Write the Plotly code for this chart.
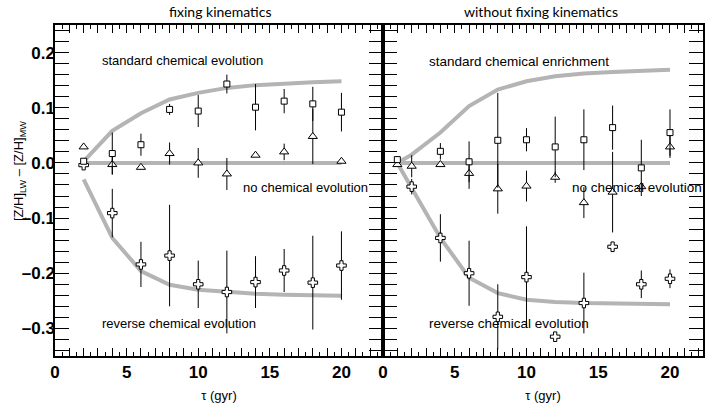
import plotly.graph_objects as go

# ---------------- data: left panel (fixing kinematics) ----------------
L_x = [2, 4, 6, 8, 10, 12, 14, 16, 18, 20]
L_sq = [0.003, 0.017, 0.033, 0.097, 0.094, 0.143, 0.101, 0.112, 0.107, 0.092]
L_sq_err = [0.0, 0.038, 0.020, 0.010, 0.029, 0.017, 0.042, 0.022, 0.031, 0.035]
L_tri = [0.029, -0.003, -0.008, 0.017, 0.000, -0.020, 0.014, 0.020, 0.048, 0.003]
L_tri_err = [0.0, 0.018, 0.0, 0.020, 0.027, 0.029, 0.0, 0.015, 0.050, 0.0]
L_crs = [-0.004, -0.091, -0.184, -0.168, -0.220, -0.234, -0.216, -0.195, -0.217, -0.186]
L_crs_err = [0.008, 0.044, 0.041, 0.092, 0.043, 0.075, 0.047, 0.039, 0.085, 0.062]
L_std_curve = [0.003, 0.058, 0.090, 0.115, 0.127, 0.136, 0.141, 0.144, 0.146, 0.148]
L_flat_curve = [0.0, 0.0, 0.0, 0.0, 0.0, 0.0, 0.0, 0.0, 0.0, 0.0]
L_rev_curve = [-0.030, -0.136, -0.196, -0.221, -0.230, -0.234, -0.237, -0.239, -0.240, -0.241]

# ---------------- data: right panel (without fixing kinematics) ----------------
R_cx = [1, 2, 4, 6, 8, 10, 12, 14, 16, 18, 20]
R_std_curve = [0.0, 0.015, 0.055, 0.103, 0.133, 0.148, 0.157, 0.162, 0.165, 0.167, 0.169]
R_flat_curve = [0.0, 0.0, 0.0, 0.0, 0.0, 0.0, 0.0, 0.0, 0.0, 0.0, 0.0]
R_rev_curve = [0.0, -0.045, -0.136, -0.208, -0.236, -0.248, -0.252, -0.254, -0.255, -0.256, -0.256]

R_sq_x = [1, 4, 6, 8, 10, 12, 14, 16, 18, 20]
R_sq = [0.006, 0.021, 0.002, 0.041, 0.042, 0.029, 0.042, 0.064, -0.009, 0.055]
R_sq_err = [0.0, 0.015, 0.037, 0.086, 0.021, 0.055, 0.055, 0.040, 0.051, 0.042]
R_tri_x = [1, 2, 4, 6, 8, 10, 12, 14, 16, 18, 20]
R_tri = [-0.003, -0.006, -0.003, -0.019, -0.047, -0.042, -0.026, -0.072, -0.053, -0.043, 0.029]
R_tri_err = [0.0, 0.020, 0.0, 0.028, 0.045, 0.028, 0.010, 0.028, 0.073, 0.0, 0.020]
R_crs_x = [2, 4, 6, 8, 10, 12, 14, 16, 18, 20]
R_crs = [-0.043, -0.136, -0.200, -0.279, -0.207, -0.315, -0.254, -0.152, -0.220, -0.210]
R_crs_err = [0.014, 0.043, 0.059, 0.059, 0.092, 0.0, 0.055, 0.0, 0.025, 0.017]

y_tickvals = [0.2, 0.1, 0.0, -0.1, -0.2, -0.3]
y_ticktext = ["0.2", "0.1", "0.0", "\u20130.1", "\u20130.2", "\u20130.3"]

# ---------------- layout geometry ----------------
W, H = 708, 408
ML, MR, MT, MB = 55, 3, 25, 52
PW, PH = W - ML - MR, H - MT - MB
SPLIT = (384 - ML) / PW


def px(x):
    return (x - ML) / PW


def py(y):
    return (H - MB - y) / PH


GRAY = "#b4b4b4"
fig = go.Figure()


def curve(x, y, xa, ya):
    fig.add_trace(go.Scatter(x=x, y=y, mode="lines", xaxis=xa, yaxis=ya,
                             line=dict(color=GRAY, width=4), hoverinfo="skip",
                             showlegend=False))


def points(x, y, err, sym, size, xa, ya):
    fig.add_trace(go.Scatter(
        x=x, y=y, mode="markers", xaxis=xa, yaxis=ya, showlegend=False,
        marker=dict(symbol=sym, size=size, color="white",
                    line=dict(color="black", width=1)),
        error_y=dict(type="data", array=err, visible=True, thickness=1,
                     width=0, color="black")))


curve(L_x, L_std_curve, "x", "y")
curve(L_x, L_flat_curve, "x", "y")
curve(L_x, L_rev_curve, "x", "y")
curve(R_cx, R_std_curve, "x2", "y2")
curve(R_cx, R_flat_curve, "x2", "y2")
curve(R_cx, R_rev_curve, "x2", "y2")

points(L_x, L_crs, L_crs_err, "cross", 8, "x", "y")
points(L_x, L_tri, L_tri_err, "triangle-up", 8, "x", "y")
points(L_x, L_sq, L_sq_err, "square", 6, "x", "y")
points(R_crs_x, R_crs, R_crs_err, "cross", 8, "x2", "y2")
points(R_tri_x, R_tri, R_tri_err, "triangle-up", 8, "x2", "y2")
points(R_sq_x, R_sq, R_sq_err, "square", 6, "x2", "y2")

# invisible carriers for the overlay axes holding the integer tick marks
fig.add_trace(go.Scatter(x=[None], y=[None], xaxis="x3", yaxis="y",
                         showlegend=False, hoverinfo="skip"))
fig.add_trace(go.Scatter(x=[None], y=[None], xaxis="x4", yaxis="y2",
                         showlegend=False, hoverinfo="skip"))

tickfont = dict(family="Liberation Sans, Arial, sans-serif", size=17,
                color="black", weight="bold")
txt = dict(family="Liberation Sans, Arial, sans-serif", size=13, color="black")
xcommon = dict(dtick=5, tick0=0, ticks="inside", ticklen=8, tickwidth=1, tickcolor="black",
               minor=dict(dtick=0.5, ticks="inside", ticklen=4, tickcolor="black", tickwidth=1),
               showline=True, linecolor="black", linewidth=1.5, mirror="allticks",
               showgrid=False, zeroline=False, tickfont=tickfont,
               title=dict(text="\u03c4 (gyr)", font=txt, standoff=10))
xover = dict(dtick=1, tick0=0, ticks="inside", ticklen=8, tickwidth=1, tickcolor="black",
             showticklabels=False, showline=False, mirror="allticks",
             showgrid=False, zeroline=False)
ycommon = dict(range=[-0.35, 0.25], tickmode="array", tickvals=y_tickvals,
               ticktext=y_ticktext, ticks="inside", ticklen=14, tickwidth=1,
               tickcolor="black",
               minor=dict(dtick=0.02, ticks="inside", ticklen=11, tickcolor="black", tickwidth=1),
               showline=True, linecolor="black", linewidth=1.5, mirror="allticks",
               showgrid=False, zeroline=False, tickfont=tickfont)

fig.update_layout(
    width=W, height=H, margin=dict(l=ML, r=MR, t=MT, b=MB),
    paper_bgcolor="white", plot_bgcolor="white",
    font=dict(family="Liberation Sans, Arial, sans-serif", color="black"),
    xaxis=dict(domain=[0, SPLIT], range=[0, 22.9], anchor="y", **xcommon),
    xaxis2=dict(domain=[SPLIT, 1], range=[0, 22.3], anchor="y2", **xcommon),
    xaxis3=dict(domain=[0, SPLIT], range=[0, 22.9], anchor="y", overlaying="x", **xover),
    xaxis4=dict(domain=[SPLIT, 1], range=[0, 22.3], anchor="y2", overlaying="x2", **xover),
    yaxis=dict(domain=[0, 1], anchor="x", ticklabelstandoff=-5, **ycommon),
    yaxis2=dict(domain=[0, 1], anchor="x2", showticklabels=False, **ycommon),
)

fig.add_shape(type="line", xref="paper", yref="paper", x0=SPLIT, x1=SPLIT,
              y0=0, y1=1, line=dict(color="black", width=4))

notes = [
    ("standard chemical evolution", 100, 60, 13),
    ("no chemical evolution", 242, 187, 13),
    ("reverse chemical evolution", 100, 323, 13),
    ("standard chemical enrichment", 428, 62, 13.5),
    ("no chemical evolution", 572, 187, 13.5),
    ("reverse chemical evolution", 428, 323, 13.5),
]
for t, x, y, s in notes:
    fig.add_annotation(text=t, xref="paper", yref="paper", x=px(x), y=py(y),
                       xanchor="left", yanchor="middle", showarrow=False,
                       font=dict(family="Liberation Sans, Arial, sans-serif",
                                 size=s, color="black"))

ttl = dict(family="Lato, Open Sans, sans-serif", size=14, color="black")
fig.add_annotation(text="fixing kinematics", xref="paper", yref="paper",
                   x=px(221), y=py(12), xanchor="center", yanchor="middle",
                   showarrow=False, font=ttl)
fig.add_annotation(text="without fixing kinematics", xref="paper", yref="paper",
                   x=px(543), y=py(12), xanchor="center", yanchor="middle",
                   showarrow=False, font=ttl)
fig.add_annotation(text="[Z/H]<sub>LW</sub> \u2013 [Z/H]<sub>MW</sub>",
                   xref="paper", yref="paper", x=px(19), y=py(171),
                   xanchor="center", yanchor="middle", textangle=-90,
                   showarrow=False, font=txt)

fig.write_html("out.html")
